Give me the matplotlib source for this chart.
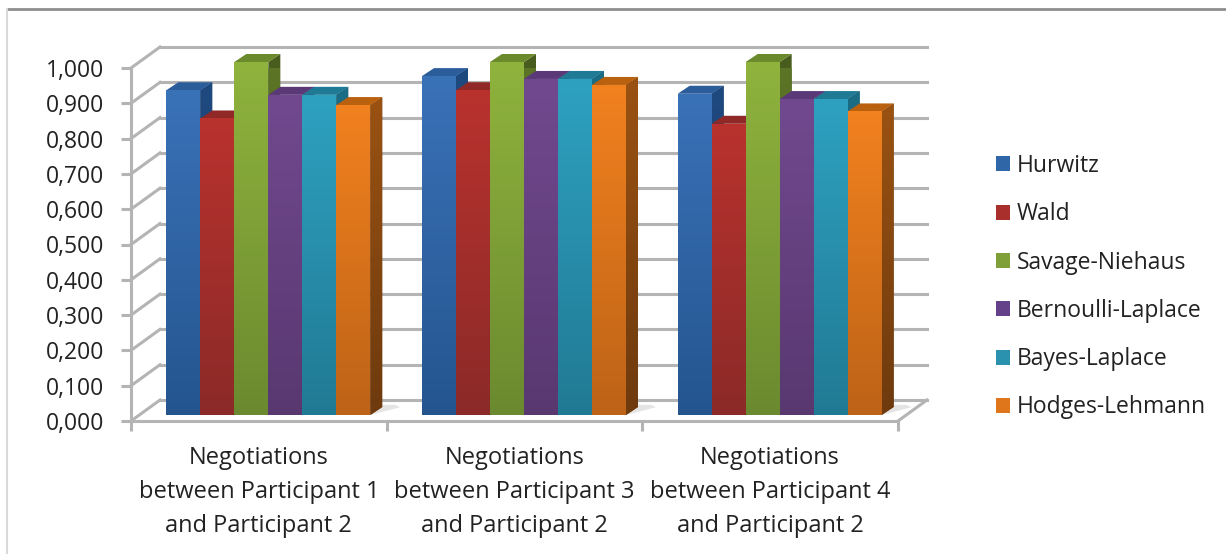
import numpy as np
import matplotlib
matplotlib.use("Agg")
import matplotlib.pyplot as plt
from matplotlib.colors import LinearSegmentedColormap
from matplotlib.lines import Line2D
from matplotlib.patches import Polygon, Patch
from matplotlib.transforms import Affine2D

groups = ["Negotiations\nbetween Participant 1\nand Participant 2",
          "Negotiations\nbetween Participant 3\nand Participant 2",
          "Negotiations\nbetween Participant 4\nand Participant 2"]
methods = ["Hurwitz", "Wald", "Savage-Niehaus", "Bernoulli-Laplace", "Bayes-Laplace", "Hodges-Lehmann"]
hurwitz = [0.920, 0.960, 0.910]
wald = [0.840, 0.920, 0.825]
savage = [1.000, 1.000, 1.000]
bernoulli = [0.907, 0.952, 0.895]
bayes = [0.907, 0.952, 0.895]
hodges = [0.878, 0.935, 0.860]
series = [hurwitz, wald, savage, bernoulli, bayes, hodges]
y_ticks = [0.0, 0.1, 0.2, 0.3, 0.4, 0.5, 0.6, 0.7, 0.8, 0.9, 1.0]

face_top = ["#3a72b8", "#b9322e", "#8fb33d", "#71498f", "#2ea1c1", "#f2811f"]
face_bot = ["#24558f", "#8b2a28", "#6b8a2f", "#593870", "#217a94", "#bd6317"]
side_top = ["#1f4a80", "#7d2220", "#5c7526", "#4c2f63", "#1b6c85", "#9a5212"]
side_bot = ["#183a63", "#621b19", "#485c1e", "#3c254e", "#155567", "#6e3a0e"]
top_col = ["#2b5d9b", "#8f2826", "#6a8a2c", "#5b3878", "#1f7a96", "#b9610f"]
legend_col = ["#2f66a8", "#a92f2c", "#7fa038", "#65418a", "#2a92af", "#e0761c"]

plt.rcParams["font.family"] = ["Open Sans", "DejaVu Sans"]
W, H = 1226, 554
fig = plt.figure(figsize=(W / 100, H / 100), dpi=100, facecolor="white")
X0, X1, Y0, Y1 = 131, 898, 421, 68
ax = fig.add_axes([X0 / W, 1 - Y0 / H, (X1 - X0) / W, (Y0 - Y1) / H])
ax.set_xlim(0, 3)
ax.set_ylim(0, 1)
ax.patch.set_visible(False)

GRID = "#b4b4b4"
wall_tr = ax.transData + Affine2D().translate(29, 21)
plane_tr = ax.transData + Affine2D().translate(9.5, 6)

# back wall grid, side wall and floor diagonals
for v in y_ticks:
    ax.plot([0, 3], [v, v], color=GRID, lw=2.2, transform=wall_tr, zorder=1, clip_on=False)
    x_px, y_px = ax.transData.transform((0, v))
    ax.add_line(Line2D([x_px, x_px + 29], [y_px, y_px + 21], color=GRID, lw=2.2, transform=None, zorder=1, clip_on=False))
xr, yr = ax.transData.transform((3, 0))
ax.add_line(Line2D([xr, xr + 29], [yr, yr + 21], color=GRID, lw=2.2, transform=None, zorder=1, clip_on=False))

# axes lines
for s in ("top", "right"):
    ax.spines[s].set_visible(False)
for s in ("left", "bottom"):
    ax.spines[s].set_color(GRID)
    ax.spines[s].set_linewidth(2.2)
    ax.spines[s].set_zorder(1.5)

ax.set_yticks(y_ticks)
ax.set_yticklabels([f"{v:.3f}".replace(".", ",") for v in y_ticks])
ax.set_xticks([0, 1, 2, 3])
ax.set_xticklabels([])
ax.set_xticks([0.5, 1.5, 2.5], minor=True)
ax.set_xticklabels(groups, minor=True, linespacing=1.56)
ax.tick_params(axis="y", length=7, width=2.2, color=GRID, labelsize=16.5, labelcolor="#222222", pad=12)
ax.tick_params(axis="x", which="major", length=7, width=2.2, color=GRID)
ax.tick_params(axis="x", which="minor", length=0, labelsize=17, labelcolor="#222222", pad=18)


def gradient(col_top, col_bot, ymin, ymax, xmin, xmax, clip, z):
    cmap = LinearSegmentedColormap.from_list("g", [col_top, col_bot])
    im = ax.imshow(np.linspace(0, 1, 128).reshape(-1, 1), cmap=cmap, aspect="auto",
                   extent=(xmin, xmax, ymin, ymax), origin="upper",
                   transform=plane_tr, zorder=z, clip_on=True, interpolation="bilinear")
    im.set_clip_path(clip)


ppx = (X1 - X0) / 3
ppy = Y0 - Y1
bar_w = 34 / ppx
dx_d, dy_d = 12 / ppx, 8 / ppy
z = 3
# soft floor shadows
for g in range(len(groups)):
    right = g + 0.5 + 3 * bar_w
    ax.add_patch(Polygon([[right, 0.0], [right + dx_d + 0.07, 0.022], [right + dx_d + 0.05, dy_d + 0.006], [right + dx_d, dy_d + 0.006]],
                         closed=True, fc="#e4e4e4", ec="none", transform=plane_tr, zorder=1.2, clip_on=False))
for g in range(len(groups)):
    c = g + 0.5
    for i, vals in enumerate(series):
        v = vals[g]
        l = c + (i - 3) * bar_w
        r = l + bar_w
        side = Polygon([[r, 0], [r + dx_d, dy_d], [r + dx_d, v + dy_d], [r, v]], closed=True, fc=side_bot[i], ec="none",
                       transform=plane_tr, zorder=z, clip_on=False)
        ax.add_patch(side)
        gradient(side_top[i], side_bot[i], 0, v + dy_d, r, r + dx_d, side, z + 0.1)
        ax.add_patch(Polygon([[l, v], [l + dx_d, v + dy_d], [r + dx_d, v + dy_d], [r, v]], closed=True, fc=top_col[i],
                             ec="none", transform=plane_tr, zorder=z + 0.2, clip_on=False))
        bar = ax.bar(l, v, width=bar_w, align="edge", color=face_bot[i], transform=plane_tr, zorder=z + 0.3, clip_on=False)[0]
        gradient(face_top[i], face_bot[i], 0, v, l, r, bar, z + 0.4)
        z += 1
ax.set_xlim(0, 3)
ax.set_ylim(0, 1)

handles = [Patch(fc=c, ec="none") for c in legend_col]
leg = fig.legend(handles, methods, loc="upper left", bbox_to_anchor=(996 / W, 1 - 154 / H), bbox_transform=fig.transFigure,
                 frameon=False, fontsize=16.5, labelspacing=1.06, handlelength=0.63, handleheight=0.63,
                 handletextpad=0.27, borderpad=0, borderaxespad=0, labelcolor="#222222")

# chart frame
fig.add_artist(Line2D([7 / W, 1], [1 - 9 / H, 1 - 9 / H], color="#8e8e8e", lw=2, transform=fig.transFigure))
fig.add_artist(Line2D([7 / W, 7 / W], [1 - 9 / H, 0], color="#d9d9d9", lw=1.5, transform=fig.transFigure))

fig.savefig("out.png", dpi=100, facecolor="white")
